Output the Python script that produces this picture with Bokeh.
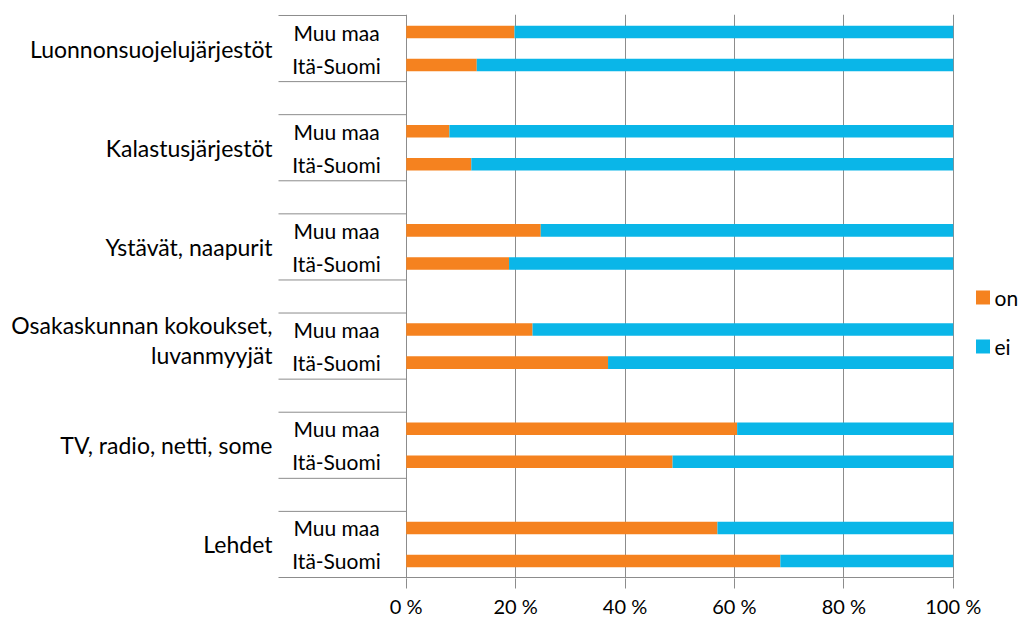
from bokeh.plotting import figure
from bokeh.models import Range1d, FixedTicker, ColumnDataSource
from bokeh.core.properties import value
from bokeh.embed import file_html
from bokeh.resources import INLINE

# ---- data ----
groups = ["Luonnonsuojelujärjestöt", "Kalastusjärjestöt", "Ystävät, naapurit",
          "Osakaskunnan kokoukset,\nluvanmyyjät", "TV, radio, netti, some", "Lehdet"]
regions = ["Muu maa", "Itä-Suomi"]
muu_on = [19.8, 7.9, 24.6, 23.1, 60.5, 56.9]
ita_on = [12.9, 11.9, 18.8, 36.9, 48.7, 68.4]
series_names = ["on", "ei"]
x_ticks = [0, 20, 40, 60, 80, 100]
x_tick_labels = ["0 %", "20 %", "40 %", "60 %", "80 %", "100 %"]

ORANGE = "#F5821F"
BLUE = "#0AB6E8"
GRID = "#8C8C8C"
FONT = "Lato"

# ---- layout (pixels) ----
W, H = 1024, 630
PX_PER_UNIT = 547 / 100.0          # pixels per percent
ZERO_PX = 405.7                    # page x of 0 %
SLOT_PX = 33.06                    # pixels per category slot
PAD = 0.03                         # y padding in slots
TOP_PX = 15 - PAD * SLOT_PX

n = len(groups)
ymax = n * 3 - 1
x_start = -ZERO_PX / PX_PER_UNIT
x_end = x_start + W / PX_PER_UNIT
frame_h = int(round((ymax + 2 * PAD) * SLOT_PX))


def px_to_x(px):
    return (px - ZERO_PX) / PX_PER_UNIT


def py_to_y(py):
    return ymax - (py - 15) / SLOT_PX


ys, ons, inner_y, inner_t = [], [], [], []
sep_y = []
outer_y, outer_t = [], []
for g in range(n):
    yb = (n - 1 - g) * 3
    for val, reg, off in ((muu_on[g], regions[0], 1.5), (ita_on[g], regions[1], 0.5)):
        ys.append(yb + off)
        ons.append(val)
        inner_y.append(yb + off)
        inner_t.append(reg)
    sep_y += [yb, yb + 2]
    lines = groups[g].split("\n")
    offs = [0] if len(lines) == 1 else [0.65, -0.27]
    for ln, o in zip(lines, offs):
        outer_y.append(yb + 1 + o)
        outer_t.append(ln)

p = figure(frame_width=W, frame_height=frame_h, output_backend="svg", toolbar_location=None,
           x_range=Range1d(x_start, x_end), y_range=Range1d(-PAD, ymax + PAD),
           min_border_left=0, min_border_right=0, min_border_top=int(round(TOP_PX)),
           min_border_bottom=H - int(round(TOP_PX)) - frame_h)
p.outline_line_color = None
p.background_fill_color = "white"
p.yaxis.visible = False
p.ygrid.grid_line_color = None

p.xgrid.ticker = FixedTicker(ticks=x_ticks)
p.xgrid.grid_line_color = GRID

src = ColumnDataSource(dict(y=ys, on=ons))
p.hbar(y="y", left=0, right="on", height=0.38, source=src, fill_color=ORANGE, line_color=None)
p.hbar(y="y", left="on", right=100, height=0.38, source=src, fill_color=BLUE, line_color=None)

# group separator lines on the category axis
sep_left = px_to_x(278)
p.segment(x0=[sep_left] * len(sep_y), y0=sep_y, x1=[0] * len(sep_y), y1=sep_y,
          line_color=GRID, line_width=1)
# value axis line
p.segment(x0=[0], y0=[0], x1=[100], y1=[0], line_color=GRID, line_width=1)

# inner labels
p.text(x=[px_to_x(336)] * len(inner_y), y=inner_y, text=inner_t, text_align="center",
       text_baseline="middle", text_font=value(FONT), text_font_size="21px", text_color="black")
# outer labels
p.text(x=[px_to_x(272)] * len(outer_y), y=outer_y, text=outer_t, text_align="right",
       text_baseline="middle", text_font=value(FONT), text_font_size="23px", text_color="black")

# legend (drawn inside the wide frame)
leg_y = [py_to_y(297), py_to_y(346)]
p.scatter(x=[px_to_x(982.5)] * 2, y=leg_y, marker="square", size=14,
          fill_color=[ORANGE, BLUE], line_color=None)
p.text(x=[px_to_x(994)] * 2, y=leg_y, text=series_names, text_align="left",
       text_baseline="middle", text_font=value(FONT), text_font_size="21px", text_color="black")

# x axis
xa = p.xaxis[0]
xa.ticker = FixedTicker(ticks=x_ticks, minor_ticks=[])
xa.major_label_overrides = {t: l for t, l in zip(x_ticks, x_tick_labels)}
xa.major_tick_out = 10
xa.major_tick_in = 0
xa.minor_tick_line_color = None
xa.axis_line_color = None
xa.major_tick_line_color = GRID
xa.major_label_text_font = FONT
xa.major_label_text_font_size = "20px"
xa.major_label_text_color = "black"
xa.major_label_standoff = 5

open("out.html", "w").write(file_html(p, INLINE))
